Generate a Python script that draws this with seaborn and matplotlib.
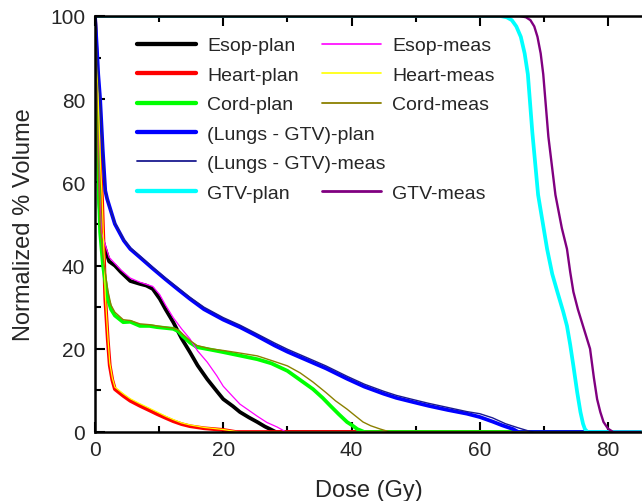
import matplotlib
matplotlib.use("Agg")
import matplotlib.pyplot as plt
import seaborn as sns
import numpy as np
import pandas as pd
from matplotlib.lines import Line2D

# ---------------- data ----------------
esop_plan_dose = [0, 0.3, 0.7, 1.0, 1.6, 2.2, 3.1, 4.0, 5.5, 7.0, 8.0, 9.0, 10.1, 11, 12.2, 13.5, 14.8, 16, 17.5, 19, 20, 21.5, 22.6, 24, 25.3, 26.5, 27.3, 28.2, 85]
esop_plan_vol = [100, 80, 55, 47, 44, 41, 40, 38.5, 36.3, 35.6, 35.2, 34.4, 32, 29.5, 26.4, 22.5, 19.2, 16, 12.7, 9.8, 7.9, 6.2, 4.8, 3.5, 2.4, 1.3, 0.7, 0, 0]
esop_meas_dose = [0, 0.3, 0.7, 1.0, 1.6, 2.2, 3.1, 4.0, 5.5, 7.0, 8.0, 9.0, 10.1, 11, 12.2, 13.5, 14.8, 16, 17.5, 19, 20, 21.5, 22.6, 24, 25.3, 26.8, 28.4, 29.8, 85]
esop_meas_vol = [100, 82, 57, 48, 45, 42, 40.5, 39, 37, 36, 35.5, 35, 33, 30.5, 27.5, 24.8, 22.4, 19.5, 16.8, 13.5, 11, 8.5, 6.7, 5.2, 3.8, 2.3, 1.2, 0, 0]

heart_plan_dose = [0, 0.3, 0.6, 0.9, 1.1, 1.4, 1.6, 2.0, 2.3, 2.7, 3.1, 4.4, 5.5, 7.0, 8.5, 9.7, 11, 12.2, 13.5, 14.8, 17, 20, 22, 85]
heart_plan_vol = [100, 88, 75, 62, 56, 42, 32, 22, 16, 12.5, 10.3, 8.7, 7.5, 6.3, 5.2, 4.3, 3.4, 2.6, 1.9, 1.4, 0.9, 0.5, 0, 0]
heart_meas_dose = [0, 0.3, 0.6, 0.9, 1.1, 1.4, 1.6, 2.0, 2.3, 2.7, 3.1, 4.4, 5.5, 7.0, 8.5, 9.7, 11, 12.2, 13.5, 14.8, 17, 20, 22.5, 85]
heart_meas_vol = [100, 89, 76, 63, 57, 43, 33, 23, 16.6, 13, 10.8, 9.2, 8.0, 6.8, 5.7, 4.8, 3.8, 3.0, 2.2, 1.7, 1.1, 0.6, 0, 0]

cord_plan_dose = [0, 0.3, 0.5, 0.8, 1.25, 2.0, 2.5, 3.1, 4.4, 5.5, 7.0, 8.5, 9.7, 11, 12.2, 13.0, 13.7, 14.8, 15.9, 18, 20, 22.5, 25.3, 27.5, 30, 32, 34, 35.5, 36.7, 38, 39.3, 40.2, 40.9, 42, 85]
cord_plan_vol = [100, 80, 62, 48, 40, 32, 29.5, 28, 26.4, 26.5, 25.5, 25.5, 25.2, 25, 24.8, 24.2, 23, 21.5, 20.4, 19.8, 19.2, 18.4, 17.5, 16.5, 14.7, 12.5, 10.3, 8.2, 6.3, 4.3, 2.4, 1.5, 0.7, 0, 0]
cord_meas_dose = [0, 0.3, 0.5, 0.8, 1.25, 2.0, 2.5, 3.1, 4.4, 5.5, 7.0, 8.5, 9.7, 11, 12.2, 13.0, 13.7, 14.8, 15.9, 18, 20, 22.5, 25.3, 27.5, 30, 32, 34, 36, 37.5, 39.3, 40.5, 41.8, 43, 44.5, 46, 85]
cord_meas_vol = [100, 82, 64, 50, 42, 34, 30.5, 28.8, 27, 26.8, 26, 25.8, 25.5, 25.2, 25, 24.5, 23.5, 22, 20.8, 20, 19.6, 19, 18.3, 17.2, 15.9, 14.2, 12, 9.5, 7.5, 5.5, 4, 2.4, 1.5, 0.7, 0, 0]

lung_plan_dose = [0, 0.3, 0.5, 0.8, 1.2, 1.6, 1.9, 2.5, 3.1, 4.5, 5.5, 7, 9, 11, 13, 14.8, 17, 20, 22.6, 25, 28, 30, 33, 36, 39.3, 42, 45, 47, 49.6, 52, 55, 58, 60, 62, 63.5, 65.2, 66, 85]
lung_plan_vol = [100, 92, 86, 80, 68, 58, 56, 53, 50, 46, 44, 42, 39.3, 36.7, 34.2, 32, 29.5, 27, 25.2, 23.3, 20.8, 19.3, 17.3, 15.3, 12.8, 10.9, 9.2, 8.2, 7.2, 6.3, 5.3, 4.4, 3.6, 2.5, 1.6, 0.7, 0, 0]
lung_meas_dose = [0, 0.3, 0.5, 0.8, 1.2, 1.6, 1.9, 2.5, 3.1, 4.5, 5.5, 7, 9, 11, 13, 14.8, 17, 20, 22.6, 25, 28, 30, 33, 36, 39.3, 42, 45, 47, 49.6, 52, 55, 58, 60, 62, 64, 66, 67.5, 68.5, 85]
lung_meas_vol = [100, 92, 86, 80, 68, 58, 56, 53, 50.3, 46.3, 44.3, 42.3, 39.6, 37, 34.6, 32.4, 30, 27.5, 25.7, 23.8, 21.4, 19.9, 17.9, 15.9, 13.4, 11.5, 9.8, 8.8, 7.8, 6.9, 5.9, 4.9, 4.4, 3.4, 2.0, 1.0, 0.3, 0, 0]

gtv_plan_dose = [0, 63.2, 64.2, 65, 65.7, 66.4, 67, 67.5, 68.2, 69.1, 70.5, 71.3, 72.1, 73.0, 73.6, 74.1, 74.6, 75.2, 75.7, 76.1, 76.4, 76.8, 85]
gtv_plan_vol = [100, 100, 99.7, 99, 97.5, 95, 91, 86, 72, 57, 44, 38, 33.7, 29, 25.5, 21, 15.9, 9.5, 4.8, 2, 0.7, 0, 0]
gtv_meas_dose = [0, 66.2, 67.2, 67.9, 68.5, 69.0, 69.5, 69.9, 70.7, 71.8, 72.8, 73.6, 74.1, 74.6, 75.3, 76.1, 76.6, 77.2, 77.8, 78.3, 78.8, 79.3, 80, 80.8, 85]
gtv_meas_vol = [100, 100, 99.7, 99, 97.5, 95, 91, 86, 71, 57, 49, 44, 38.5, 33.7, 29.5, 25.5, 23, 20, 13, 7.9, 4.8, 2.4, 0.8, 0, 0]

labels = ["Esop-plan", "Esop-meas", "Heart-plan", "Heart-meas", "Cord-plan", "Cord-meas",
          "(Lungs - GTV)-plan", "(Lungs - GTV)-meas", "GTV-plan", "GTV-meas"]
colors = ["#000000", "#ff00ff", "#ff0000", "#ffff00", "#00ff00", "#8b8000",
          "#0000ff", "#1a1a90", "#00ffff", "#800080"]
widths = [2.7, 0.9, 2.7, 0.9, 2.7, 1.0, 2.7, 1.0, 2.7, 1.7]

series = [(esop_plan_dose, esop_plan_vol), (esop_meas_dose, esop_meas_vol),
          (heart_plan_dose, heart_plan_vol), (heart_meas_dose, heart_meas_vol),
          (cord_plan_dose, cord_plan_vol), (cord_meas_dose, cord_meas_vol),
          (lung_plan_dose, lung_plan_vol), (lung_meas_dose, lung_meas_vol),
          (gtv_plan_dose, gtv_plan_vol), (gtv_meas_dose, gtv_meas_vol)]

# ---------------- figure ----------------
sns.set_style("white")
plt.rcParams['font.family'] = ['Liberation Sans', 'DejaVu Sans']

fig = plt.figure(figsize=(6.42, 5.02), dpi=100)
ax = fig.add_axes([95 / 642, 1 - 433 / 502, 1 - 95 / 642, (433 - 17) / 502])

# plan curves first, then measured on top
order = [0, 2, 4, 6, 8, 1, 3, 5, 7, 9]
for i in order:
    d, v = series[i]
    df = pd.DataFrame({"dose": d, "vol": v})
    sns.lineplot(data=df, x="dose", y="vol", color=colors[i], linewidth=widths[i],
                 ax=ax, estimator=None, sort=False, legend=False, clip_on=True)

ax.set_xlim(0, 85.3)
ax.set_ylim(0, 100)
ax.set_xticks([0, 20, 40, 60, 80])
ax.set_xticks([10, 30, 50, 70], minor=True)
ax.set_yticks([0, 20, 40, 60, 80, 100])
ax.set_yticks([10, 30, 50, 70, 90], minor=True)
ax.tick_params(axis='both', which='major', direction='in', length=7, width=1.5,
               labelsize=15, top=True, bottom=True, left=True, right=False, color='black')
ax.tick_params(axis='both', which='minor', direction='in', length=4, width=1.5,
               top=True, bottom=True, left=True, right=False, color='black')
ax.tick_params(axis='x', pad=6)
ax.tick_params(axis='y', pad=7)
ax.set_xlabel("Dose (Gy)", fontsize=17, labelpad=14)
ax.set_ylabel("Normalized % Volume", fontsize=17, labelpad=11)

for s in ['left', 'bottom', 'top']:
    ax.spines[s].set_visible(True)
    ax.spines[s].set_color('black')
    ax.spines[s].set_linewidth(1.8)
ax.spines['right'].set_visible(False)

# ---------------- legend ----------------
col1_idx = [0, 2, 4, 6, 7, 8]
h1 = [Line2D([], [], color=colors[i], linewidth=widths[i] + (0.4 if i % 2 == 0 or i == 6 or i == 8 else 0.3)) for i in col1_idx]
l1 = [labels[i] for i in col1_idx]
leg1 = ax.legend(h1, l1, loc='upper left', bbox_to_anchor=(0.077, 0.950), frameon=False,
                 fontsize=14, handlelength=3.05, handletextpad=0.55, labelspacing=0.61,
                 borderpad=0, borderaxespad=0)
ax.add_artist(leg1)

col2_idx = [1, 3, 5, None, None, 9]
h2, l2 = [], []
for i in col2_idx:
    if i is None:
        h2.append(Line2D([], [], color='none'))
        l2.append(' ')
    else:
        h2.append(Line2D([], [], color=colors[i], linewidth=widths[i] + 0.3))
        l2.append(labels[i])
leg2 = ax.legend(h2, l2, loc='upper left', bbox_to_anchor=(0.415, 0.950), frameon=False,
                 fontsize=14, handlelength=3.05, handletextpad=0.55, labelspacing=0.61,
                 borderpad=0, borderaxespad=0)

fig.savefig("out.png", dpi=100)
